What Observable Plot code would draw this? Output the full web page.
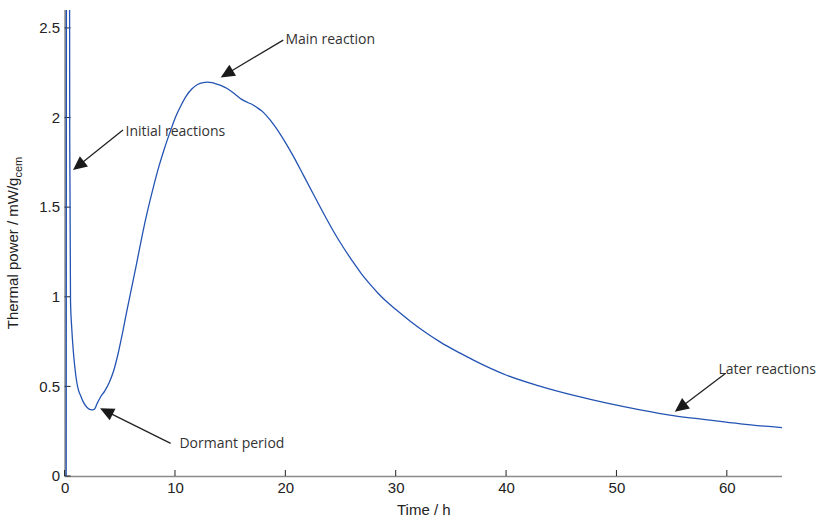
<!DOCTYPE html>
<html>
<head>
<meta charset="utf-8">
<script src="https://cdn.jsdelivr.net/npm/d3@7"></script>
<script src="https://cdn.jsdelivr.net/npm/@observablehq/plot@0.6"></script>
<style>
  html, body { margin: 0; padding: 0; background: #fff; }
  #chart { width: 830px; height: 516px; }
</style>
</head>
<body>
<div id="chart"></div>
<script>
// Time (h) and thermal power (mW/g_cem)
const timeH = [0.1, 0.13, 0.38, 0.42, 0.49, 0.6, 0.73, 0.9, 1.05, 1.2, 1.4, 1.6, 1.85, 2.1, 2.3, 2.5, 2.65, 2.75, 2.85, 3.2, 3.6, 4.0, 4.4, 4.8, 5.2, 5.6, 6.0, 6.5, 7.0, 7.5, 8.0, 8.5, 9.0, 9.5, 10.0, 10.5, 11.0, 11.5, 12.0, 12.5, 12.87, 13.3, 13.7, 14.2, 14.68, 15.2, 15.6, 16.0, 16.5, 17.0, 17.4, 17.8, 18.2, 19.0, 19.8, 20.7, 21.6, 22.5, 23.4, 24.3, 25.2, 26.0, 26.8, 27.6, 28.4, 29.2, 30.0, 31.3, 32.8, 34.0, 35.8, 37.0, 40.0, 43.0, 46.1, 49.1, 52.1, 55.1, 58.2, 61.2, 65.0];
const power = [0, 4.0, 4.0, 1.9, 0.98, 0.83, 0.71, 0.60, 0.53, 0.485, 0.452, 0.422, 0.396, 0.38, 0.373, 0.372, 0.375, 0.385, 0.40, 0.442, 0.478, 0.525, 0.59, 0.685, 0.80, 0.925, 1.045, 1.195, 1.35, 1.49, 1.615, 1.73, 1.83, 1.92, 2.005, 2.07, 2.125, 2.163, 2.187, 2.198, 2.2, 2.197, 2.19, 2.18, 2.165, 2.143, 2.123, 2.104, 2.088, 2.074, 2.058, 2.04, 2.016, 1.955, 1.88, 1.785, 1.68, 1.575, 1.47, 1.37, 1.279, 1.205, 1.135, 1.075, 1.02, 0.972, 0.93, 0.865, 0.798, 0.75, 0.688, 0.649, 0.565, 0.504, 0.452, 0.409, 0.372, 0.34, 0.316, 0.294, 0.272];

const xTicks = [0, 10, 20, 30, 40, 50, 60];
const yTicks = [0, 0.5, 1, 1.5, 2, 2.5];

// Annotations (data units): label, text position, arrow tail, arrow tip
const annLabels = ["Initial reactions", "Main reaction", "Dormant period", "Later reactions"];
const annTextX = [5.47, 19.96, 10.36, 59.19];
const annTextY = [1.924, 2.437, 0.184, 0.597];
const annTailX = [5.29, 19.81, 9.61, 59.9];
const annTailY = [1.93, 2.432, 0.182, 0.573];
const annTipX = [0.76, 14.14, 3.21, 55.29];
const annTipY = [1.707, 2.224, 0.378, 0.359];

const curve = timeH.map((t, i) => ({t, p: power[i]}));
const ann = annLabels.map((label, i) => ({
  label, tx: annTextX[i], ty: annTextY[i],
  x1: annTailX[i], y1: annTailY[i], x2: annTipX[i], y2: annTipY[i]
}));

const SVGNS = "http://www.w3.org/2000/svg";
function el(name, attrs) {
  const e = document.createElementNS(SVGNS, name);
  for (const k in attrs) e.setAttribute(k, attrs[k]);
  return e;
}

// inward ticks drawn through the scales
function innerTicks(index, scales, values, dims) {
  const g = el("g", {stroke: "#222", "stroke-width": 1});
  const x0 = scales.x(0), y0 = scales.y(0);
  for (const t of xTicks) {
    const x = scales.x(t);
    g.appendChild(el("line", {x1: x, x2: x, y1: y0, y2: y0 - 6}));
  }
  for (const v of yTicks) {
    const y = scales.y(v);
    g.appendChild(el("line", {x1: x0, x2: x0 + 6, y1: y, y2: y}));
  }
  return g;
}

// y-axis label with subscript
function yLabel(index, scales, values, dims) {
  const cy = (dims.marginTop + dims.height - dims.marginBottom) / 2;
  const t = el("text", {
    transform: `translate(18,${cy}) rotate(-90)`,
    "text-anchor": "middle",
    "font-family": "'Liberation Sans', Arial, sans-serif",
    "font-size": 15, fill: "#222"
  });
  t.appendChild(document.createTextNode("Thermal power / mW/g"));
  const sub = el("tspan", {"font-size": 11, dy: 4});
  sub.textContent = "cem";
  t.appendChild(sub);
  return t;
}

// annotation arrows with filled heads
function arrows(index, scales, values, dims) {
  const g = el("g", {});
  const L = 14, W = 6.5;
  for (const a of ann) {
    const xa = scales.x(a.x1), ya = scales.y(a.y1);
    const xb = scales.x(a.x2), yb = scales.y(a.y2);
    const dx = xb - xa, dy = yb - ya, len = Math.hypot(dx, dy);
    const ux = dx / len, uy = dy / len;
    const bx = xb - ux * L, by = yb - uy * L;
    g.appendChild(el("line", {x1: xa, y1: ya, x2: bx + ux * 2, y2: by + uy * 2, stroke: "#222", "stroke-width": 1.3}));
    const p1 = [bx - uy * W, by + ux * W], p2 = [bx + uy * W, by - ux * W];
    g.appendChild(el("polygon", {points: `${xb},${yb} ${p1[0]},${p1[1]} ${p2[0]},${p2[1]}`, fill: "#1a1a1a"}));
  }
  return g;
}

const chart = Plot.plot({
  width: 830,
  height: 516,
  marginLeft: 64.6,
  marginRight: 48,
  marginTop: 10,
  marginBottom: 40,
  style: {background: "#fff", fontFamily: "'Liberation Sans', Arial, sans-serif"},
  x: {domain: [0, 65]},
  y: {domain: [0, 2.6]},
  marks: [
    Plot.ruleY([0], {stroke: "#8a8a8a", strokeWidth: 1.6}),
    Plot.ruleX([0], {stroke: "#8a8a8a", strokeWidth: 1.6}),
    Plot.axisX({ticks: xTicks, tickSize: 0, tickPadding: 6, fontSize: 15, color: "#222", label: "Time / h", labelAnchor: "center", labelArrow: "none", labelOffset: 38}),
    Plot.axisY({ticks: yTicks, tickSize: 0, tickPadding: 5, fontSize: 15, color: "#222", label: null, tickFormat: d => String(d)}),
    innerTicks,
    Plot.line(curve, {x: "t", y: "p", stroke: "#2353b3", strokeWidth: 1.3, clip: true, curve: "monotone-x"}),
    arrows,
    Plot.text(ann, {x: "tx", y: "ty", text: "label", textAnchor: "start", fontSize: 14, fill: "#333", fontFamily: "'Open Sans', sans-serif"}),
    yLabel
  ]
});
document.getElementById("chart").appendChild(chart);
</script>
</body>
</html>
